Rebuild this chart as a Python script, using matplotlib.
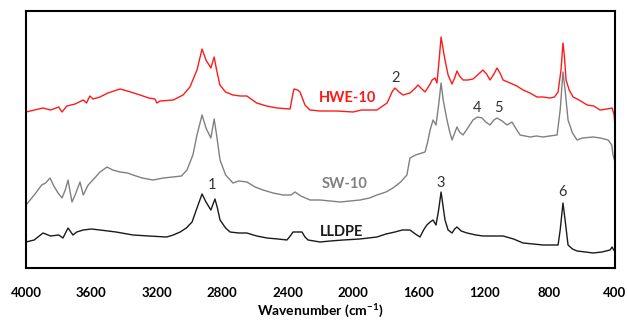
import matplotlib
matplotlib.use("Agg")
from matplotlib import pyplot as plt

plt.rcParams['font.family'] = ['Lato', 'DejaVu Sans']
plt.rcParams['mathtext.fontset'] = 'custom'
plt.rcParams['mathtext.bf'] = 'Lato:bold'

# spectra (wavenumber, vertical position; axis is drawn inverted)
hwe_wn = [4000, 3896, 3850, 3800, 3780, 3750, 3700, 3650, 3630, 3610, 3590, 3548, 3500, 3425,
          3380, 3303, 3250, 3212, 3200, 3180, 3100, 3040, 2998, 2955, 2924, 2900, 2870, 2850,
          2835, 2815, 2780, 2735, 2690, 2650, 2590, 2530, 2466, 2386, 2370, 2362, 2340, 2325,
          2295, 2265, 2203, 2100, 2000, 1950, 1855, 1793, 1760, 1745, 1720, 1695, 1653, 1620,
          1604, 1580, 1561, 1530, 1518, 1500, 1488, 1475, 1463, 1455, 1439, 1420, 1396, 1380,
          1366, 1350, 1329, 1300, 1268, 1240, 1207, 1185, 1164, 1140, 1121, 1100, 1084, 1041,
          1000, 962, 920, 877, 840, 797, 770, 748, 730, 718, 710, 699, 680, 656, 620, 570, 530,
          491, 450, 418, 405, 400]
hwe_y = [112, 108, 110, 107, 112, 106, 104, 100, 103, 96, 99, 97, 93, 89,
         91, 95, 98, 99, 103, 101, 100, 95, 87, 70, 49, 60, 68, 57,
         70, 85, 92, 95, 96, 96, 103, 106, 108, 109, 95, 89, 90, 92,
         105, 110, 111, 111, 112, 110, 110, 103, 91, 88, 92, 95, 93, 88,
         85, 89, 92, 84, 80, 78, 83, 60, 37, 45, 60, 75, 84, 78,
         71, 76, 80, 80, 79, 75, 70, 74, 80, 74, 68, 74, 80, 83,
         86, 90, 93, 97, 97, 98, 97, 92, 70, 43, 55, 80, 90, 97, 100, 105, 106,
         110, 109, 108, 115, 128]

sw_wn = [4000, 3950, 3904, 3880, 3853, 3830, 3804, 3780, 3760, 3743, 3730, 3719, 3700, 3670,
         3650, 3620, 3580, 3548, 3505, 3470, 3425, 3380, 3346, 3290, 3224, 3160, 3102, 3050,
         3016, 2980, 2955, 2924, 2900, 2870, 2850, 2835, 2814, 2780, 2735, 2700, 2650, 2600,
         2551, 2490, 2429, 2380, 2356, 2320, 2264, 2203, 2140, 2080, 2020, 1958, 1900, 1855,
         1800, 1757, 1710, 1672, 1653, 1620, 1580, 1561, 1545, 1530, 1512, 1494, 1478, 1463,
         1450, 1427, 1410, 1396, 1380, 1366, 1350, 1329, 1300, 1268, 1240, 1213, 1190, 1164,
         1140, 1121, 1090, 1060, 1030, 1000, 980, 919, 880, 840, 800, 754, 735, 718, 705, 687,
         660, 632, 600, 534, 490, 442, 420, 412, 400]
sw_y = [205, 195, 185, 183, 178, 186, 193, 198, 190, 180, 192, 202, 195, 182,
        195, 185, 178, 172, 167, 170, 172, 173, 175, 178, 180, 178, 177, 176,
        170, 155, 135, 115, 128, 138, 119, 135, 160, 175, 183, 181, 182, 187,
        190, 193, 195, 195, 192, 196, 200, 200, 201, 202, 201, 200, 198, 195,
        192, 188, 182, 175, 158, 155, 153, 152, 142, 130, 120, 125, 105, 83,
        100, 120, 132, 140, 133, 127, 132, 135, 128, 120, 117, 118, 122, 125,
        120, 118, 121, 125, 122, 130, 135, 137, 136, 137, 136, 135, 110, 72, 90, 120,
        133, 140, 138, 137, 138, 140, 145, 155, 162]

ldpe_wn = [4000, 3950, 3896, 3850, 3800, 3774, 3743, 3713, 3690, 3650, 3600, 3548, 3450, 3346,
           3250, 3140, 3100, 3058, 3020, 2985, 2955, 2924, 2900, 2870, 2845, 2830, 2814, 2780,
           2753, 2700, 2650, 2590, 2527, 2460, 2405, 2385, 2368, 2340, 2313, 2295, 2276, 2203,
           2140, 2062, 1960, 1855, 1800, 1745, 1700, 1653, 1620, 1592, 1570, 1550, 1530, 1512,
           1494, 1478, 1463, 1452, 1439, 1420, 1396, 1380, 1366, 1340, 1305, 1250, 1207, 1140,
           1084, 1020, 962, 900, 840, 790, 748, 735, 718, 705, 687, 660, 632, 580, 534, 480,
           430, 418, 400]
ldpe_y = [242, 240, 233, 236, 235, 238, 228, 235, 232, 230, 229, 230, 232, 235,
          236, 237, 235, 232, 228, 222, 208, 194, 202, 210, 199, 208, 220, 228,
          232, 233, 233, 236, 238, 239, 240, 236, 232, 232, 232, 237, 240, 242,
          241, 240, 239, 237, 234, 232, 230, 230, 234, 237, 230, 225, 222, 220,
          225, 210, 192, 205, 220, 230, 233, 229, 227, 231, 233, 235, 236, 236,
          236, 239, 243, 244, 245, 245, 245, 230, 203, 220, 245, 249, 251, 252, 253, 252,
          250, 247, 252]

names = ['HWE-10', 'SW-10', 'LLDPE']
colors = ['#ff1a1a', '#808080', '#1a1a1a']
name_pos = [(2032, 98), (2050, 184), (2069, 232)]

peak_labels = ['1', '2', '3', '4', '5', '6']
peak_pos = [(2863, 185), (1739, 78), (1463, 183), (1243, 108), (1115, 108), (718, 192)]

xticks = [4000, 3600, 3200, 2800, 2400, 2000, 1600, 1200, 800, 400]

fig = plt.figure(figsize=(6.28, 3.21), dpi=100)
ax = fig.add_axes([26 / 628, 53 / 321, 589 / 628, 257 / 321])

ax.plot(hwe_wn, hwe_y, color=colors[0], lw=1.0)
ax.plot(sw_wn, sw_y, color=colors[1], lw=1.0)
ax.plot(ldpe_wn, ldpe_y, color=colors[2], lw=1.0)

for name, c, (x, y) in zip(names, colors, name_pos):
    ax.text(x, y, name, color=c, fontsize=10.5, fontweight='bold', ha='center', va='center')

for lab, (x, y) in zip(peak_labels, peak_pos):
    ax.text(x, y, lab, color='#333333', fontsize=10.5, ha='center', va='center')

ax.set_xlim(4000, 400)
ax.set_ylim(268, 11)
ax.set_xticks(xticks)
ax.set_xticklabels([str(t) for t in xticks], fontweight='bold', fontsize=9.5)
ax.tick_params(axis='x', length=0, pad=14)
ax.set_yticks([])
for s in ax.spines.values():
    s.set_linewidth(1.5)
ax.set_xlabel('Wavenumber (cm$^{\\mathbf{-1}}$)', fontweight='bold', fontsize=10, labelpad=1)

fig.savefig('out.png', dpi=100)
